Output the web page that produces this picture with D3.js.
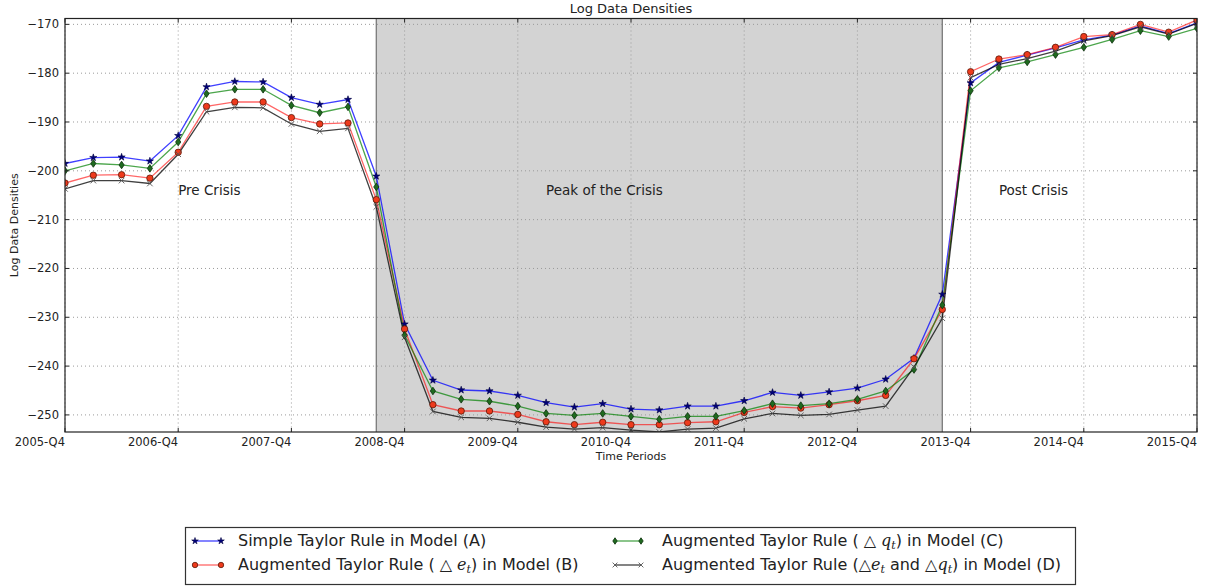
<!DOCTYPE html>
<html>
<head>
<meta charset="utf-8">
<script src="https://cdn.jsdelivr.net/npm/d3@7"></script>
<style>
  html, body { margin: 0; padding: 0; background: #fff; }
  svg text { font-family: "DejaVu Sans", sans-serif; fill: #222; }
</style>
</head>
<body>
<svg id="chart" width="1205" height="588"></svg>
<script>
// Quarterly periods, 2005-Q4 .. 2015-Q4 (41 quarters, indexed 0..40)
const periodCount = 41;
const tickIndex = [0, 4, 8, 12, 16, 20, 24, 28, 32, 36, 40];
const tickLabels = ["2005-Q4", "2006-Q4", "2007-Q4", "2008-Q4", "2009-Q4", "2010-Q4",
                    "2011-Q4", "2012-Q4", "2013-Q4", "2014-Q4", "2015-Q4"];
const yTicks = [-250, -240, -230, -220, -210, -200, -190, -180, -170];

// Crisis window: 2008-Q3 .. 2013-Q3
const crisisStart = 11;
const crisisEnd = 31;

const phaseLabels = [
  { text: "Pre Crisis", at: 4, value: -205 },
  { text: "Peak of the Crisis", at: 17, value: -205 },
  { text: "Post Crisis", at: 33, value: -205 }
];

// Log data densities per quarter
const modelA = [-198.5, -197.3, -197.2, -198.0, -192.8, -182.8, -181.7, -181.8, -185.0, -186.4, -185.4, -201.1,
  -231.4, -242.9, -244.9, -245.1, -246.0, -247.5, -248.4, -247.7, -248.8, -249.0, -248.2, -248.2, -247.1, -245.4,
  -246.0, -245.3, -244.5, -242.7, -238.4, -225.3, -182.0, -177.8, -176.3, -174.8, -173.2, -172.2, -170.3, -171.9, -169.7];
const modelB = [-202.5, -200.9, -200.8, -201.5, -196.2, -186.8, -185.9, -185.9, -189.1, -190.4, -190.2, -205.9,
  -232.4, -247.9, -249.2, -249.2, -249.9, -251.4, -252.0, -251.5, -252.0, -252.0, -251.6, -251.4, -249.5, -248.3,
  -248.6, -247.9, -247.1, -246.0, -238.5, -228.4, -179.7, -177.1, -176.2, -174.7, -172.5, -172.1, -170.0, -171.6, -169.1];
const modelC = [-200.0, -198.5, -198.8, -199.5, -194.1, -184.2, -183.3, -183.3, -186.6, -188.1, -186.9, -203.3,
  -233.7, -245.1, -246.8, -247.2, -248.2, -249.7, -250.1, -249.7, -250.3, -250.9, -250.3, -250.3, -249.1, -247.7,
  -248.1, -247.7, -246.8, -245.1, -240.7, -227.5, -183.6, -178.9, -177.7, -176.2, -174.7, -173.1, -171.3, -172.5, -170.8];
const modelD = [-203.7, -202.0, -202.0, -202.6, -196.6, -187.9, -187.0, -187.1, -190.4, -191.9, -191.3, -207.4,
  -234.1, -249.3, -250.5, -250.7, -251.5, -252.5, -252.9, -252.6, -253.1, -253.5, -252.9, -252.7, -250.8, -249.7,
  -250.1, -249.9, -249.0, -248.2, -240.2, -230.2, -180.9, -178.2, -177.0, -175.5, -173.4, -172.3, -170.5, -172.0, -169.8];

const series = [
  { key: "A", values: modelA, line: "#0000ff", lineOpacity: 0.75, marker: "star", fill: "#00007a", stroke: "#000040" },
  { key: "B", values: modelB, line: "#ff0000", lineOpacity: 0.6, marker: "circle", fill: "#ee3a1c", stroke: "#5a1a0a" },
  { key: "C", values: modelC, line: "#008000", lineOpacity: 0.7, marker: "diamond", fill: "#1f6a1f", stroke: "#0c300c" },
  { key: "D", values: modelD, line: "#000000", lineOpacity: 0.75, marker: "x", fill: "none", stroke: "#555" }
];

const margin = { left: 65, right: 8, top: 18.5, bottom: 156 };
const W = 1205, H = 588;
const iw = W - margin.left - margin.right;
const ih = H - margin.top - margin.bottom;

const svg = d3.select("#chart");
svg.append("rect").attr("width", W).attr("height", H).attr("fill", "#fff");

const x = d3.scaleLinear().domain([0, periodCount - 1]).range([0, iw]);
const y = d3.scaleLinear().domain([-253.5, -168.8]).range([ih, 0]);

const g = svg.append("g").attr("transform", `translate(${margin.left},${margin.top})`);

g.append("clipPath").attr("id", "plotClip")
  .append("rect").attr("width", iw).attr("height", ih);

// Crisis shading
g.append("rect")
  .attr("x", x(crisisStart)).attr("y", 0)
  .attr("width", x(crisisEnd) - x(crisisStart)).attr("height", ih)
  .attr("fill", "#d3d3d3");
[crisisStart, crisisEnd].forEach(q => {
  g.append("line")
    .attr("x1", x(q)).attr("x2", x(q)).attr("y1", 0).attr("y2", ih)
    .attr("stroke", "#7a7a7a").attr("stroke-width", 1.3);
});

// Dotted grid
const grid = g.append("g").attr("stroke", "#9a9a9a").attr("stroke-width", 1).attr("stroke-dasharray", "1,3");
tickIndex.forEach(q => grid.append("line").attr("x1", x(q)).attr("x2", x(q)).attr("y1", 0).attr("y2", ih));
yTicks.forEach(v => grid.append("line").attr("x1", 0).attr("x2", iw).attr("y1", y(v)).attr("y2", y(v)));

// Phase annotations
phaseLabels.forEach(p => {
  g.append("text").attr("x", x(p.at)).attr("y", y(p.value))
    .attr("font-size", 13.5).text(p.text);
});

// Marker drawing helpers
function drawMarker(sel, type, fill, stroke, size) {
  const s = size || 1;
  if (type === "star") {
    sel.append("path").attr("d", d3.symbol().type(d3.symbolStar).size(16 * s)())
      .attr("fill", fill).attr("stroke", stroke).attr("stroke-width", 0.6);
  } else if (type === "circle") {
    sel.append("circle").attr("r", 3.2 * s)
      .attr("fill", fill).attr("stroke", stroke).attr("stroke-width", 0.8);
  } else if (type === "diamond") {
    const w = 2.6 * s, h = 3.8 * s;
    sel.append("path").attr("d", `M0,${-h}L${w},0L0,${h}L${-w},0Z`)
      .attr("fill", fill).attr("stroke", stroke).attr("stroke-width", 0.8);
  } else if (type === "x") {
    const r = 2.8 * s;
    sel.append("path").attr("d", `M${-r},${-r}L${r},${r}M${-r},${r}L${r},${-r}`)
      .attr("fill", "none").attr("stroke", stroke).attr("stroke-width", 0.9);
  }
}

const plot = g.append("g").attr("clip-path", "url(#plotClip)");
const lineGen = d3.line().x((d, i) => x(i)).y(d => y(d));

series.forEach(s => {
  plot.append("path").datum(s.values)
    .attr("d", lineGen)
    .attr("fill", "none")
    .attr("stroke", s.line)
    .attr("stroke-opacity", s.lineOpacity)
    .attr("stroke-width", 1.3);
});
series.forEach(s => {
  const mk = plot.append("g");
  s.values.forEach((v, i) => {
    const m = mk.append("g").attr("transform", `translate(${x(i)},${y(v)})`);
    drawMarker(m, s.marker, s.fill, s.stroke);
  });
});

// Frame
g.append("rect").attr("width", iw).attr("height", ih)
  .attr("fill", "none").attr("stroke", "#222").attr("stroke-width", 1.2);

// Inward ticks on all four sides
const tickG = g.append("g").attr("stroke", "#222").attr("stroke-width", 1);
tickIndex.forEach(q => {
  tickG.append("line").attr("x1", x(q)).attr("x2", x(q)).attr("y1", ih).attr("y2", ih - 4);
  tickG.append("line").attr("x1", x(q)).attr("x2", x(q)).attr("y1", 0).attr("y2", 4);
});
yTicks.forEach(v => {
  tickG.append("line").attr("x1", 0).attr("x2", 4).attr("y1", y(v)).attr("y2", y(v));
  tickG.append("line").attr("x1", iw).attr("x2", iw - 4).attr("y1", y(v)).attr("y2", y(v));
});

// Axis labels (x labels right-aligned to their tick)
tickIndex.forEach((q, k) => {
  g.append("text").attr("x", x(q)).attr("y", ih + 14)
    .attr("text-anchor", "end").attr("font-size", 11.5).text(tickLabels[k]);
});
yTicks.forEach(v => {
  g.append("text").attr("x", -6).attr("y", y(v) + 4)
    .attr("text-anchor", "end").attr("font-size", 11.5).text("\u2212" + Math.abs(v));
});

svg.append("text").attr("x", margin.left + iw / 2).attr("y", 460)
  .attr("text-anchor", "middle").attr("font-size", 11).text("Time Periods");
svg.append("text")
  .attr("transform", `translate(18,${margin.top + ih / 2}) rotate(-90)`)
  .attr("text-anchor", "middle").attr("font-size", 11).text("Log Data Densities");
svg.append("text").attr("x", margin.left + iw / 2).attr("y", 13)
  .attr("text-anchor", "middle").attr("font-size", 13).text("Log Data Densities");

// Legend
const legend = svg.append("g");
legend.append("rect").attr("x", 185.5).attr("y", 527.5).attr("width", 890).attr("height", 57)
  .attr("fill", "#fff").attr("stroke", "#333").attr("stroke-width", 1.2);

const legendPos = [
  { s: series[0], x: 195, y: 541 },
  { s: series[1], x: 195, y: 565 },
  { s: series[2], x: 615, y: 541 },
  { s: series[3], x: 615, y: 565 }
];
legendPos.forEach(p => {
  const le = legend.append("g");
  le.append("line").attr("x1", p.x).attr("x2", p.x + 26).attr("y1", p.y).attr("y2", p.y)
    .attr("stroke", p.s.line).attr("stroke-opacity", p.s.lineOpacity).attr("stroke-width", 1.3);
  [p.x, p.x + 26].forEach(mx => {
    const m = le.append("g").attr("transform", `translate(${mx},${p.y})`);
    drawMarker(m, p.s.marker, p.s.fill, p.s.stroke, 0.85);
  });
});

const mathFont = "DejaVu Serif";
function legendText(tx, ty, parts) {
  const t = legend.append("text").attr("x", tx).attr("y", ty).attr("font-size", 16);
  parts.forEach(pt => {
    const ts = t.append("tspan").text(pt.t);
    if (pt.math) ts.attr("font-family", mathFont);
    if (pt.it) ts.attr("font-style", "italic");
    if (pt.sub) ts.attr("font-size", 11).attr("dy", 3);
    if (pt.up) ts.attr("dy", -3);
  });
}
legendText(238, 546, [{ t: "Simple Taylor Rule in Model (A)" }]);
legendText(238, 570, [
  { t: "Augmented Taylor Rule (" }, { t: " \u25B3 ", math: true }, { t: "e", math: true, it: true },
  { t: "t", math: true, it: true, sub: true }, { t: ") in Model (B)", up: true }
]);
legendText(662, 546, [
  { t: "Augmented Taylor Rule (" }, { t: " \u25B3 ", math: true }, { t: "q", math: true, it: true },
  { t: "t", math: true, it: true, sub: true }, { t: ") in Model (C)", up: true }
]);
legendText(662, 570, [
  { t: "Augmented Taylor Rule (" }, { t: "\u25B3", math: true }, { t: "e", math: true, it: true },
  { t: "t", math: true, it: true, sub: true }, { t: " and ", up: true }, { t: "\u25B3", math: true },
  { t: "q", math: true, it: true }, { t: "t", math: true, it: true, sub: true },
  { t: ") in Model (D)", up: true }
]);
</script>
</body>
</html>
